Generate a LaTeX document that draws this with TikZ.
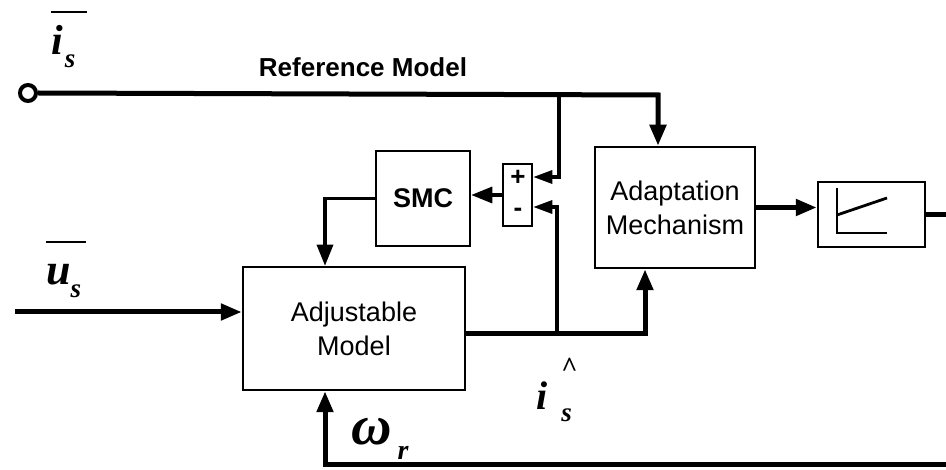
\documentclass[tikz,border=0pt]{standalone}
\usepackage{fontspec}
\setmainfont{Liberation Serif}
\setsansfont{Liberation Sans}
\usetikzlibrary{arrows.meta}

\begin{document}
\begin{tikzpicture}[x=1pt, y=-1pt,
        block/.style={rectangle, draw, line width=2.5pt, fill=white, inner sep=0pt, align=center, font=\sffamily\fontsize{27}{34}\selectfont},
        sig/.style={line width=5pt},
        wire/.style={line width=3.2pt},
        arrow/.style={-{Triangle[length=21pt,width=16pt]}},
        inarrow/.style={-{Triangle[length=19pt,width=13pt]}},
        lbl/.style={inner sep=0pt, anchor=base west, font=\bfseries\itshape}
    ]
        \useasboundingbox (0,0) rectangle (946,470);

        % blocks
        \node[block, minimum width=222pt, minimum height=123pt] (adjm) at (354,328.5) {Adjustable\\Model};
        \node[block, minimum width=94pt, minimum height=95pt, font=\sffamily\bfseries\fontsize{27}{27}\selectfont] (smc) at (423,198.5) {SMC};
        \node[block, minimum width=29pt, minimum height=62pt] (sum) at (517.5,195) {};
        \node[block, minimum width=160pt, minimum height=121pt] (adapt) at (675,207.5) {Adaptation\\Mechanism};
        \node[block, minimum width=107pt, minimum height=65pt] (integ) at (871.5,214.5) {};
        \node[circle, draw, line width=4pt, fill=white, minimum size=16pt, inner sep=0pt] (term) at (28,93) {};

        % signs and integrator symbol
        \node[font=\sffamily\bfseries\fontsize{26}{26}\selectfont, inner sep=0pt] (plus) at (518,178) {+};
        \node[font=\sffamily\bfseries\fontsize{26}{26}\selectfont, inner sep=0pt] (minus) at (518,212) {-};
        \draw[line width=2.8pt] (837,188) -- (837,233) -- (887,233);
        \draw[line width=2.8pt] (837,215) -- (887,198);

        % junctions
        \coordinate (jtop) at (559,95);
        \coordinate (ctop) at (658,95);
        \coordinate (jplus) at (559,177);
        \coordinate (jout) at (557,334);
        \coordinate (jminus) at (557,207);
        \coordinate (cout) at (645,334);
        \coordinate (csmc) at (325,198);
        \coordinate (uin) at (15,312);
        \coordinate (iout) at (946,218);
        \coordinate (fbr) at (946,465);
        \coordinate (fbl) at (325,465);

        % connectors
        \draw[sig, arrow] (term.east) -- (ctop) -- (ctop |- adapt.north);
        \draw[wire, inarrow] (jtop) -- (jplus) -- (jplus -| sum.east);
        \draw[wire, inarrow] (jout) -- (jminus) -- (jminus -| sum.east);
        \draw[sig, arrow] (adjm.east |- jout) -- (cout) -- (cout |- adapt.south);
        \draw[wire, arrow] (sum.west) -- (sum.west -| smc.east);
        \draw[wire, arrow] (smc.west) -- (smc.west -| csmc) -- (csmc |- adjm.north);
        \draw[sig, arrow] (uin) -- (uin -| adjm.west);
        \draw[sig, arrow] (adapt.east) -- (adapt.east -| integ.west);
        \draw[sig] (integ.east) -- (integ.east -| iout);
        \draw[sig, arrow] (fbr) -- (fbl) -- (fbl |- adjm.south);

        % labels
        \node[inner sep=0pt, anchor=base, font=\sffamily\bfseries\fontsize{26}{26}\selectfont] (refm) at (363,77) {Reference Model};
        \node[lbl] (lis) at (51,55) {\fontsize{42}{42}\selectfont\rlap{\raisebox{41.5pt}{\rule{36pt}{2.8pt}}}i\kern2pt\raisebox{-13pt}{\fontsize{27}{27}\selectfont s}};
        \node[lbl] (lus) at (46,285) {\fontsize{44}{44}\selectfont\rlap{\raisebox{41.5pt}{\rule{40pt}{2.8pt}}}u\raisebox{-13pt}{\fontsize{27}{27}\selectfont s}};
        \node[lbl] (lwr) at (351,445) {\fontsize{56}{56}\selectfont ω\kern6pt\raisebox{-15pt}{\fontsize{28}{28}\selectfont r}};
        \node[lbl] (lih) at (536,410) {\fontsize{40}{40}\selectfont i\kern14pt\rlap{\raisebox{34pt}{\fontsize{28}{28}\selectfont\upshape\textasciicircum}}\raisebox{-12pt}{\fontsize{27}{27}\selectfont s}};
    \end{tikzpicture}
\end{document}
